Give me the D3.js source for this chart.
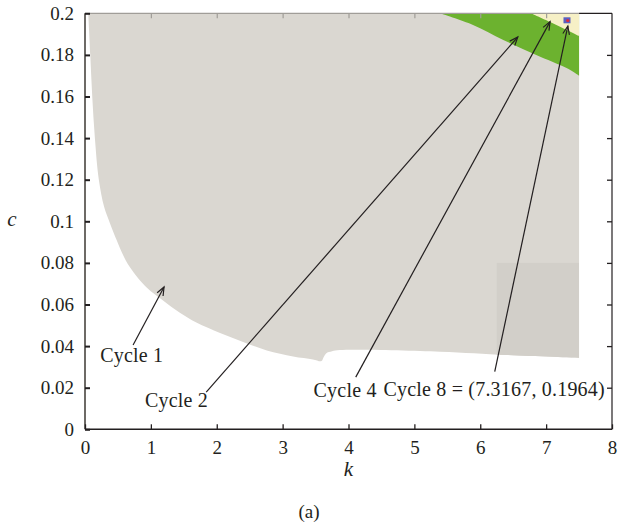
<!DOCTYPE html>
<html>
<head>
<meta charset="utf-8">
<script src="https://cdn.jsdelivr.net/npm/d3@7"></script>
<style>
  html, body { margin: 0; padding: 0; background: #fff; }
  svg { display: block; }
  text { font-family: "Liberation Serif", "Times New Roman", Tinos, serif; fill: #231f20; }
</style>
</head>
<body>
<script>
// Parameter plane (k, c): regions of periodic orbits.
const xTicks = [0, 1, 2, 3, 4, 5, 6, 7, 8];
const yTicks = [0, 0.02, 0.04, 0.06, 0.08, 0.1, 0.12, 0.14, 0.16, 0.18, 0.2];
const yTickLabels = ["0", "0.02", "0.04", "0.06", "0.08", "0.1", "0.12", "0.14", "0.16", "0.18", "0.2"];

// Lower/left boundary of the period-1 region, as (k, c)
const cycle1Boundary = [
  [0.05, 0.2], [0.08, 0.180], [0.11, 0.160], [0.15, 0.140], [0.21, 0.120],
  [0.29, 0.107], [0.38, 0.099], [0.48, 0.091], [0.56, 0.085], [0.68, 0.078],
  [0.94, 0.068], [1.18, 0.062], [1.44, 0.056], [1.69, 0.0513], [2.05, 0.0463],
  [2.40, 0.0420], [2.76, 0.0379], [3.16, 0.0350], [3.46, 0.0336], [3.59, 0.0328],
  [3.62, 0.0345], [3.66, 0.0365], [3.75, 0.0375], [3.87, 0.0381], [5.39, 0.0373],
  [6.40, 0.0357], [7.5, 0.0343]
];
const kMax = 7.5;

// Sub-block of the period-1 region
const cycle1Block = { k0: 6.25, k1: 7.5, c1: 0.08 };

// Lower boundary of the period-2 band
const cycle2Lower = [
  [5.39, 0.2], [5.89, 0.1944], [6.35, 0.1872], [6.85, 0.1800], [7.31, 0.1737], [7.5, 0.1700]
];
// Lower boundary of the period-4 band
const cycle4Lower = [
  [6.77, 0.2], [7.06, 0.1958], [7.31, 0.1920], [7.5, 0.1891]
];

// Period-8 point
const cycle8 = [7.3167, 0.1964];

// Annotations: label anchor (k, c), arrow tail and head (k, c)
const notes = [
  { text: "Cycle 1", at: [0.23, 0.0324], from: [0.73, 0.0405], to: [1.20, 0.0684] },
  { text: "Cycle 2", at: [0.91, 0.0107], from: [1.84, 0.0179], to: [6.57, 0.1886] },
  { text: "Cycle 4", at: [3.47, 0.0155], from: [4.11, 0.0251], to: [7.06, 0.1960] },
  { text: "Cycle 8 = (7.3167, 0.1964)", at: [4.53, 0.0160], from: [6.22, 0.0277], to: [7.33, 0.1939] }
];

const W = 618, H = 531;
const margin = { left: 85, right: 6, top: 13.3, bottom: 101.7 };

const svg = d3.select("body").append("svg").attr("width", W).attr("height", H);

const x = d3.scaleLinear().domain([0, 8]).range([margin.left, W - margin.right]);
const y = d3.scaleLinear().domain([0, 0.2]).range([H - margin.bottom, margin.top]);

const smooth = d3.line().x(d => x(d[0])).y(d => y(d[1])).curve(d3.curveCatmullRom.alpha(0.5));

// Closed region: boundary curve, then straight back to the corner (kMax, 0.2)
function regionPath(boundary) {
  return smooth(boundary) + `L${x(kMax)},${y(0.2)}Z`;
}

// Period-1 region
const p1 = regionPath(cycle1Boundary);
svg.append("path").attr("d", p1).attr("fill", "#dad7d1");

// Darker block inside period-1 region, clipped to region
svg.append("clipPath").attr("id", "clip1").append("path").attr("d", p1);
svg.append("rect")
  .attr("clip-path", "url(#clip1)")
  .attr("x", x(cycle1Block.k0)).attr("y", y(cycle1Block.c1))
  .attr("width", x(cycle1Block.k1) - x(cycle1Block.k0))
  .attr("height", y(0) - y(cycle1Block.c1))
  .attr("fill", "#d2cfc9");

// Period-2 band
svg.append("path").attr("d", regionPath(cycle2Lower)).attr("fill", "#6cb22f");

// Period-4 band
svg.append("path").attr("d", regionPath(cycle4Lower)).attr("fill", "#f6f0c6");

// Period-8 point
svg.append("rect")
  .attr("x", x(cycle8[0]) - 3.5).attr("y", y(cycle8[1]) - 3.5)
  .attr("width", 7).attr("height", 6)
  .attr("fill", "#5a5fc0");
svg.append("circle")
  .attr("cx", x(cycle8[0]) + 0.8).attr("cy", y(cycle8[1]) - 0.3)
  .attr("r", 1.6).attr("fill", "#e02a3a");

// Frame
const x0 = x(0), x1 = x(8), y0 = y(0), y1 = y(0.2);
svg.append("line").attr("x1", x0).attr("x2", x(kMax)).attr("y1", y1).attr("y2", y1)
  .attr("stroke", "#a09d98").attr("stroke-width", 1.2);
svg.append("line").attr("x1", x(kMax)).attr("x2", x1).attr("y1", y1).attr("y2", y1)
  .attr("stroke", "#231f20").attr("stroke-width", 1.2);
svg.append("line").attr("x1", x1).attr("x2", x1).attr("y1", y1).attr("y2", y0)
  .attr("stroke", "#231f20").attr("stroke-width", 1.2);
svg.append("line").attr("x1", x0).attr("x2", x0).attr("y1", y1).attr("y2", y0)
  .attr("stroke", "#6d6a66").attr("stroke-width", 2);
svg.append("line").attr("x1", x0).attr("x2", x1).attr("y1", y0).attr("y2", y0)
  .attr("stroke", "#231f20").attr("stroke-width", 1.5);

// Axes (inward ticks)
const fmtY = d => yTickLabels[yTicks.indexOf(d)];
const axB = svg.append("g").attr("transform", `translate(0,${y0})`)
  .call(d3.axisBottom(x).tickValues(xTicks).tickSizeInner(-5).tickSizeOuter(0).tickPadding(11).tickFormat(d3.format("d")));
const axL = svg.append("g").attr("transform", `translate(${x0},0)`)
  .call(d3.axisLeft(y).tickValues(yTicks).tickSizeInner(-5).tickSizeOuter(0).tickPadding(11).tickFormat(fmtY));
const axT = svg.append("g").attr("transform", `translate(0,${y1})`)
  .call(d3.axisTop(x).tickValues(xTicks.slice(1, -1)).tickSizeInner(-5).tickSizeOuter(0).tickFormat(""));
const axR = svg.append("g").attr("transform", `translate(${x1},0)`)
  .call(d3.axisRight(y).tickValues(yTicks.slice(1, -1)).tickSizeInner(-5).tickSizeOuter(0).tickFormat(""));

[axB, axL, axT, axR].forEach(a => {
  a.attr("font-family", null);
  a.select(".domain").remove();
  a.selectAll("text").style("font-size", "19px").attr("fill", "#231f20");
});
axB.selectAll(".tick line").attr("stroke", "#231f20").attr("stroke-width", 1.3);
axL.selectAll(".tick line").attr("stroke", "#231f20").attr("stroke-width", 2);
axR.selectAll(".tick line").attr("stroke", "#231f20").attr("stroke-width", 1.3);
axT.selectAll(".tick line").attr("stroke", "#a09d98").attr("stroke-width", 1.2);
axT.selectAll(".tick").filter(d => d > kMax).select("line").attr("stroke", "#231f20");

// Axis titles
svg.append("text").attr("x", 12).attr("y", y(0.1) + 5)
  .attr("text-anchor", "middle").style("font-size", "21px").style("font-style", "italic").text("c");
svg.append("text").attr("x", x(4)).attr("y", 476)
  .attr("text-anchor", "middle").style("font-size", "21px").style("font-style", "italic").text("k");
svg.append("text").attr("x", x(3.4)).attr("y", 518)
  .attr("text-anchor", "middle").style("font-size", "19px").text("(a)");

// Annotation arrows
function arrowHead(p, q) {
  const ang = Math.atan2(q[1] - p[1], q[0] - p[0]);
  const L = 9, spread = 0.38;
  const a1 = [q[0] - L * Math.cos(ang - spread), q[1] - L * Math.sin(ang - spread)];
  const a2 = [q[0] - L * Math.cos(ang + spread), q[1] - L * Math.sin(ang + spread)];
  return `M${a1[0]},${a1[1]}L${q[0]},${q[1]}L${a2[0]},${a2[1]}`;
}
const ann = svg.append("g");
notes.forEach(n => {
  const p = [x(n.from[0]), y(n.from[1])], q = [x(n.to[0]), y(n.to[1])];
  ann.append("line").attr("x1", p[0]).attr("y1", p[1]).attr("x2", q[0]).attr("y2", q[1])
    .attr("stroke", "#231f20").attr("stroke-width", 1.2);
  ann.append("path").attr("d", arrowHead(p, q)).attr("fill", "none")
    .attr("stroke", "#231f20").attr("stroke-width", 1.2);
  ann.append("text").attr("x", x(n.at[0])).attr("y", y(n.at[1]))
    .style("font-size", "20px").style("letter-spacing", "0.2px").text(n.text);
});
</script>
</body>
</html>
